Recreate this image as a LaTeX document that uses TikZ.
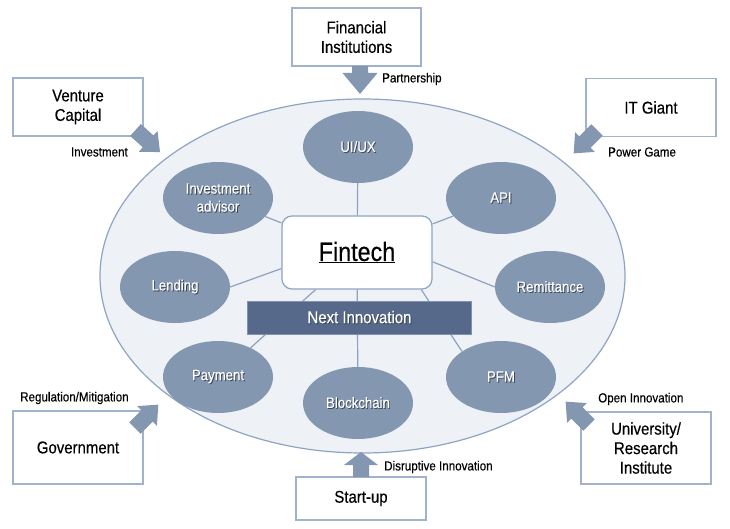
\documentclass[tikz,border=0pt]{standalone}
\usepackage{fontspec}
\setmainfont{Liberation Sans}[FakeStretch=0.88,FakeBold=0.35]
\usetikzlibrary{shapes.geometric}
\definecolor{bigfill}{HTML}{EEF1F5}
\definecolor{bigline}{HTML}{8FA4C3}
\definecolor{ellfill}{HTML}{8497B0}
\definecolor{barfill}{HTML}{56698A}
\definecolor{barline}{HTML}{7F93B0}
\definecolor{boxline}{HTML}{A0B2CC}
\definecolor{connline}{HTML}{8EA2C0}
\definecolor{arrfill}{HTML}{8497B0}
\definecolor{shadowc}{HTML}{3C4656}
\pgfdeclarelayer{back}
\pgfdeclarelayer{background}
\pgfsetlayers{back,background,main}
\newcommand\shd[1]{\makebox[0pt][l]{\hspace{0.9pt}\raisebox{-0.9pt}{\textcolor{shadowc}{#1}}}\textcolor{white}{#1}}
% tail coord, rotate, length, head length, head half width, shaft half width
\newcommand\blockarr[6]{%
  \begin{scope}[shift={(#1)}, rotate=#2]
    \fill[arrfill] (0,#6) -- ({#3-#4},#6) -- ({#3-#4},#5) -- (#3,0) -- ({#3-#4},-#5) -- ({#3-#4},-#6) -- (0,-#6) -- cycle;
  \end{scope}}
\begin{document}
\begin{tikzpicture}[x=1pt,y=-1pt,
  box/.style={draw=boxline, line width=1.2pt, fill=white, minimum width=130pt, align=center, font=\fontsize{17}{19.5}\selectfont, inner sep=0pt},
  item/.style={ellipse, fill=ellfill, minimum width=110pt, minimum height=72pt, inner sep=0pt, align=center, font=\fontsize{15}{18}\selectfont},
  conn/.style={draw=connline, line width=1.2pt},
  lbl/.style={font=\fontsize{13.2}{15}\selectfont, inner sep=0pt},
  fintechbox/.style={draw=bigline, line width=1.2pt, fill=white, rounded corners=10pt, minimum width=150pt, minimum height=73pt, inner sep=0pt, font=\fontsize{26.5}{30}\selectfont},
  barbox/.style={draw=barline, line width=1pt, fill=barfill, minimum width=224pt, minimum height=33pt, inner sep=0pt, font=\fontsize{17}{20}\selectfont}
]
\useasboundingbox (0,0) rectangle (730,529);
\begin{pgfonlayer}{back}
\node[ellipse, draw=bigline, fill=bigfill, line width=1.2pt, minimum width=525pt, minimum height=354pt, inner sep=0pt] (big) at (362.5,276) {};
\end{pgfonlayer}

\node[item] (ui) at (358,147) {\shd{UI/UX}};
\node[item] (api) at (501,198) {\shd{API}};
\node[item] (ia) at (218,198) {\shd{Investment}\\\shd{advisor}};
\node[item] (len) at (175,287) {\shd{Lending}};
\node[item] (rem) at (550,287) {\shd{Remittance}};
\node[item] (pay) at (218,377) {\shd{Payment}};
\node[item] (pfm) at (501,377) {\shd{PFM}};
\node[item] (blk) at (358,403) {\shd{Blockchain}};
\node[fintechbox] (fin) at (357,252.5) {\underline{Fintech}};
\node[barbox] (next) at (359.5,317.5) {\shd{Next Innovation}};

\begin{pgfonlayer}{background}
\draw[conn] (ui) -- (fin);
\draw[conn] (ia) -- (fin);
\draw[conn] (api) -- (fin);
\draw[conn] (len.east) -- (fin.192);
\draw[conn] (fin.353) -- (rem.west);
\draw[conn] (fin) -- (pay);
\draw[conn] (fin.330) -- (pfm.north west);
\draw[conn] (fin) -- (blk);
\end{pgfonlayer}

\node[box, minimum width=129pt, minimum height=58pt] (fi) at (356.5,37) {Financial\\Institutions};
\node[box, minimum height=58pt] (vc) at (78,107) {Venture\\Capital};
\node[box, minimum height=58pt] (it) at (651,107.5) {IT Giant};
\node[box, minimum height=73pt] (gov) at (78,447.5) {Government};
\node[box, minimum height=43pt] (su) at (361,498.5) {Start-up};
\node[box, minimum height=72pt] (uni) at (646,448) {University/\\Research\\Institute};

\blockarr{360,66}{-90}{28}{21}{17.5}{8}
\blockarr{361,477}{90}{25}{13}{17}{8}
\blockarr{135.5,130}{-42}{33}{16}{14}{8}
\blockarr{597,130}{-135}{33}{16}{14}{8}
\blockarr{135,428}{45}{33}{16}{14}{8}
\blockarr{589,425}{135}{33}{16}{14}{8}

\node[lbl, anchor=west] (lp) at (382,79) {Partnership};
\node[lbl, anchor=east] (lin) at (128,152) {Investment};
\node[lbl, anchor=west] (lpg) at (608,152) {Power Game};
\node[lbl, anchor=west] (lrm) at (20,398) {Regulation/Mitigation};
\node[lbl, anchor=west] (loi) at (598,399) {Open Innovation};
\node[lbl, anchor=west] (ldi) at (384,467) {Disruptive Innovation};
\end{tikzpicture}
\end{document}
